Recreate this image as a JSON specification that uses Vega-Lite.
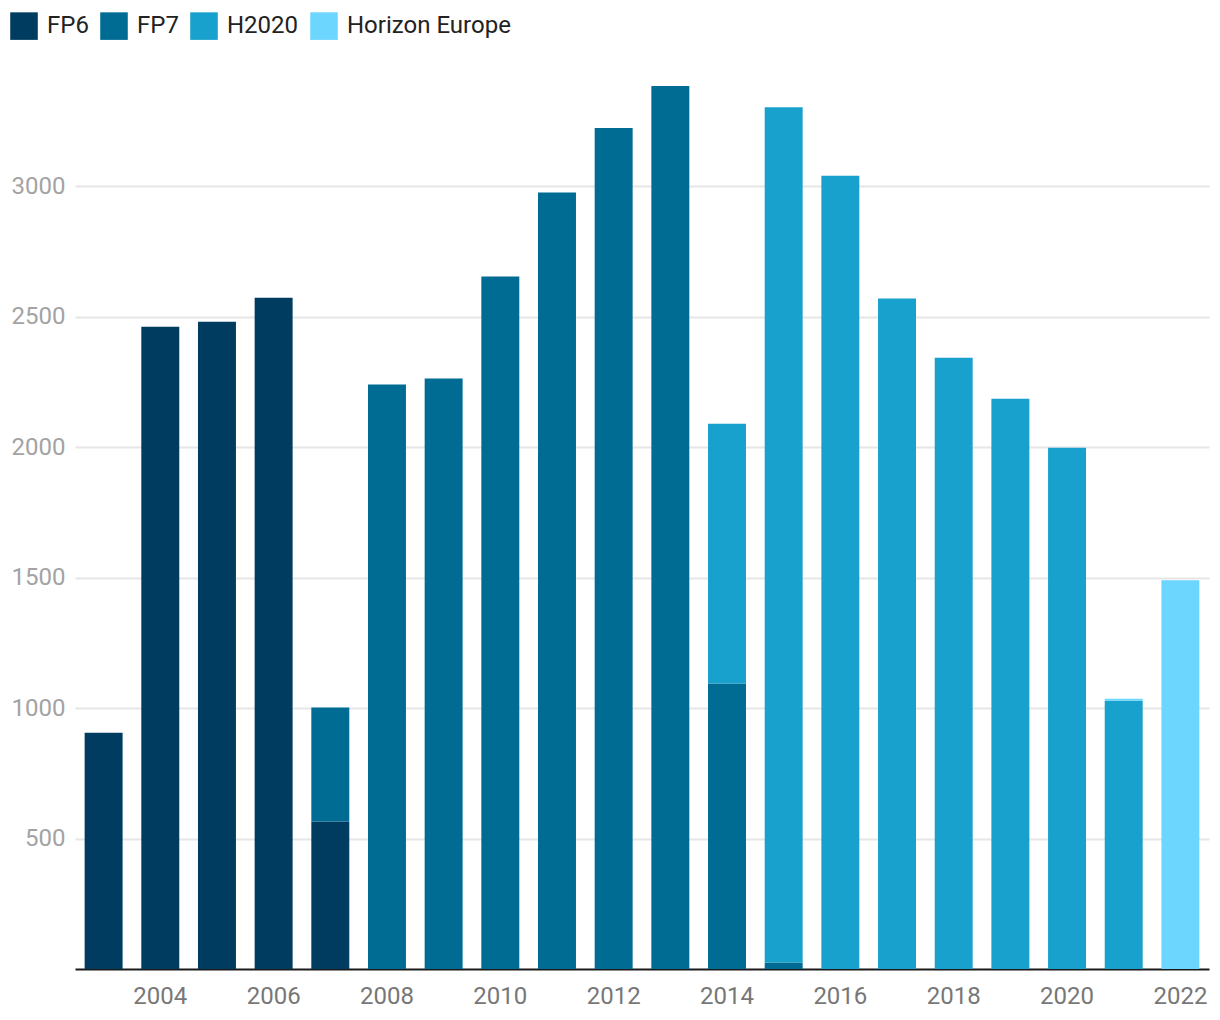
{
  "$schema": "https://vega.github.io/schema/vega-lite/v6.json",
  "width": 1134,
  "height": 887,
  "autosize": {"type": "none"},
  "padding": {"left": 75, "top": 82, "right": 11, "bottom": 51},
  "background": "white",
  "config": {
    "view": {"stroke": null},
    "font": "Roboto"
  },
  "data": {
    "values": [
      {"year": 2003, "programme": "FP6", "value": 906},
      {"year": 2004, "programme": "FP6", "value": 2462},
      {"year": 2005, "programme": "FP6", "value": 2481},
      {"year": 2006, "programme": "FP6", "value": 2573},
      {"year": 2007, "programme": "FP6", "value": 565},
      {"year": 2007, "programme": "FP7", "value": 437},
      {"year": 2008, "programme": "FP7", "value": 2240},
      {"year": 2009, "programme": "FP7", "value": 2263},
      {"year": 2010, "programme": "FP7", "value": 2654},
      {"year": 2011, "programme": "FP7", "value": 2976},
      {"year": 2012, "programme": "FP7", "value": 3224},
      {"year": 2013, "programme": "FP7", "value": 3385},
      {"year": 2014, "programme": "FP7", "value": 1094},
      {"year": 2014, "programme": "H2020", "value": 996},
      {"year": 2015, "programme": "FP7", "value": 25},
      {"year": 2015, "programme": "H2020", "value": 3278},
      {"year": 2016, "programme": "H2020", "value": 3041},
      {"year": 2017, "programme": "H2020", "value": 2570},
      {"year": 2018, "programme": "H2020", "value": 2343},
      {"year": 2019, "programme": "H2020", "value": 2186},
      {"year": 2020, "programme": "H2020", "value": 1998},
      {"year": 2021, "programme": "H2020", "value": 1028},
      {"year": 2021, "programme": "Horizon Europe", "value": 8},
      {"year": 2022, "programme": "Horizon Europe", "value": 1490}
    ]
  },
  "mark": {"type": "bar"},
  "encoding": {
    "x": {
      "field": "year",
      "type": "ordinal",
      "title": null,
      "scale": {"paddingInner": 0.33, "paddingOuter": 0.17},
      "axis": {
        "values": [2004, 2006, 2008, 2010, 2012, 2014, 2016, 2018, 2020, 2022],
        "labelAngle": 0,
        "ticks": false,
        "domainColor": "#1a1a1a",
        "domainWidth": 2,
        "labelFontSize": 24,
        "labelColor": "#777777",
        "labelPadding": 15,
        "labelFont": "Roboto"
      }
    },
    "y": {
      "field": "value",
      "type": "quantitative",
      "stack": "zero",
      "title": null,
      "scale": {"domain": [0, 3400], "nice": false},
      "axis": {
        "values": [500, 1000, 1500, 2000, 2500, 3000],
        "format": "d",
        "domain": false,
        "ticks": false,
        "gridColor": "#e6e6e6",
        "gridWidth": 2,
        "labelFontSize": 24,
        "labelColor": "#a3a3a3",
        "labelPadding": 10,
        "labelFont": "Roboto"
      }
    },
    "color": {
      "field": "programme",
      "type": "nominal",
      "title": null,
      "scale": {
        "domain": ["FP6", "FP7", "H2020", "Horizon Europe"],
        "range": ["#003c5f", "#006c94", "#19a1cd", "#6cd6fe"]
      },
      "legend": {
        "orient": "none",
        "legendX": -65,
        "legendY": -70,
        "direction": "horizontal",
        "symbolType": "square",
        "symbolSize": 760,
        "symbolStrokeWidth": 0,
        "symbolOpacity": 1,
        "labelFontSize": 24,
        "labelColor": "#222222",
        "labelFont": "Roboto",
        "labelLimit": 400,
        "labelOffset": 9,
        "columnPadding": 11
      }
    },
    "order": {"field": "programme", "sort": "ascending"}
  }
}
